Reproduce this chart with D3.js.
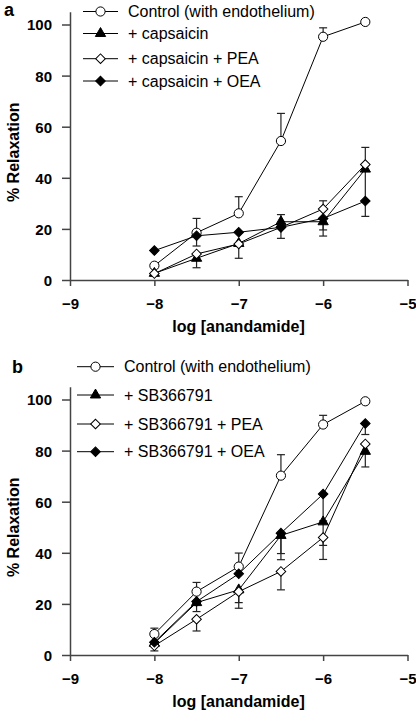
<!DOCTYPE html>
<html><head><meta charset="utf-8">
<script src="https://cdn.jsdelivr.net/npm/d3@7"></script>
<style>
html,body{margin:0;padding:0;background:#fff;}
svg{display:block;font-family:Arial,"Liberation Sans",Helvetica,sans-serif;}
</style></head>
<body>
<svg id="chart" width="416" height="710"></svg>
<script>
// ---- data ----
const xValues = [-8, -7.5, -7, -6.5, -6, -5.5];
const xTicks = [-9, -8, -7, -6, -5];
const yTicks = [0, 20, 40, 60, 80, 100];

const aLabels = ["Control (with endothelium)", "+ capsaicin", "+ capsaicin + PEA", "+ capsaicin + OEA"];
const aControl = [5.6, 18.5, 26.1, 54.4, 95.2, 101.0];
const aControlErr = [0, 5.6, 6.5, 10.8, 3.5, 0];
const aCaps = [2.6, 8.5, 14.3, 22.8, 22.8, 43.4];
const aCapsErr = [0, -3.7, -5.8, 2.8, -5.6, -18.5];
const aPEA = [2.5, 10.2, 14.1, 20.6, 27.8, 45.2];
const aPEAErr = [0, 0, 0, 0, 3.2, 6.7];
const aOEA = [11.5, 17.3, 18.7, 20.6, 24.1, 30.9];
const aOEAErr = [0, -4.0, 0, -4.3, -4.5, 0];

const bLabels = ["Control (with endothelium)", "+ SB366791", "+ SB366791 + PEA", "+ SB366791 + OEA"];
const bControl = [8.2, 24.8, 34.6, 70.2, 90.2, 99.3];
const bControlErr = [2.3, 3.6, 5.3, 8.2, 3.6, 0];
const bSB = [4.6, 20.5, 25.5, 46.8, 52.1, 79.7];
const bSBErr = [0, -3.5, -5.0, -9.5, -9.2, -6.1];
const bPEA = [3.6, 14.0, 24.8, 32.7, 46.0, 82.6];
const bPEAErr = [-2.0, -4.6, -6.5, -7.2, -8.6, 0];
const bOEA = [5.0, 20.9, 31.8, 47.7, 63.0, 90.6];
const bOEAErr = [0, 0, 0, -8.0, -10.5, -4.3];

const markers = ["circleOpen", "triangleFilled", "diamondOpen", "diamondFilled"];

// ---- drawing ----
const svg = d3.select("#chart");
const FONT = 'Arial,"Liberation Sans",Helvetica,sans-serif';

function markerPath(kind) {
  if (kind.startsWith("circle")) return d3.symbol(d3.symbolCircle, Math.PI * 4.6 * 4.6)();
  if (kind.startsWith("triangle")) return d3.symbol(d3.symbolTriangle, 46)();
  return d3.symbol(d3.symbolSquare, 46)();
}
function drawMarker(g, kind, cx, cy) {
  const filled = kind.endsWith("Filled");
  const rot = kind.startsWith("diamond") ? " rotate(45)" : "";
  g.append("path")
    .attr("d", markerPath(kind))
    .attr("transform", `translate(${cx},${cy})${rot}`)
    .attr("fill", filled ? "#000" : "#fff")
    .attr("stroke", "#000")
    .attr("stroke-width", 1);
}

function panel(opts) {
  const g = svg.append("g");
  const x = d3.scaleLinear().domain([-9, -5]).range([70, 407.5]);
  const y = d3.scaleLinear().domain([0, 105]).range([opts.y0, opts.y0 - 105 * 2.555]);

  // axes
  const xa = g.append("g").attr("transform", `translate(0,${opts.y0})`)
    .call(d3.axisBottom(x).tickValues(xTicks).tickFormat(d3.format("d")).tickSize(6).tickSizeOuter(0).tickPadding(12));
  const ya = g.append("g").attr("transform", `translate(70,0)`)
    .call(d3.axisLeft(y).tickValues(yTicks).tickSize(8).tickSizeOuter(0).tickPadding(10));
  [xa, ya].forEach(a => {
    a.selectAll("path.domain").attr("stroke", "#444").attr("stroke-width", 1.5);
    a.selectAll(".tick line").attr("stroke", "#444").attr("stroke-width", 1.5);
    a.selectAll(".tick text").attr("fill", "#000").style("font-family", FONT)
      .style("font-size", "15px").style("font-weight", "bold");
  });
  ya.selectAll(".tick text").attr("dy", "0.36em");

  // axis titles
  g.append("text").attr("x", 238.5).attr("y", opts.y0 + 52)
    .attr("text-anchor", "middle").style("font-family", FONT)
    .style("font-size", "16px").style("font-weight", "bold").text("log [anandamide]");
  g.append("text").attr("transform", `translate(19,${y(50)}) rotate(-90)`)
    .attr("text-anchor", "middle").style("font-family", FONT)
    .style("font-size", "16px").style("font-weight", "bold").text("% Relaxation");

  // panel letter
  g.append("text").attr("x", opts.letterX).attr("y", opts.letterY)
    .style("font-family", FONT).style("font-size", "18px").style("font-weight", "bold").text(opts.letter);

  const line = d3.line().x((d, i) => x(xValues[i])).y(d => y(d));
  // lines
  opts.series.forEach(s => {
    g.append("path").attr("d", line(s.values)).attr("fill", "none")
      .attr("stroke", "#000").attr("stroke-width", 1);
  });
  // error bars
  opts.series.forEach(s => {
    s.values.forEach((v, i) => {
      const e = s.err[i];
      if (!e) return;
      const cx = x(xValues[i]);
      g.append("line").attr("x1", cx).attr("x2", cx).attr("y1", y(v)).attr("y2", y(v + e))
        .attr("stroke", "#222").attr("stroke-width", 1.2);
      g.append("line").attr("x1", cx - 4).attr("x2", cx + 4).attr("y1", y(v + e)).attr("y2", y(v + e))
        .attr("stroke", "#222").attr("stroke-width", 1.2);
    });
  });
  // markers
  opts.series.forEach((s, k) => {
    s.values.forEach((v, i) => drawMarker(g, markers[k], x(xValues[i]), y(v)));
  });

  // legend
  opts.labels.forEach((lab, k) => {
    const ly = opts.legendRows[k];
    g.append("line").attr("x1", opts.legX0).attr("x2", opts.legX1).attr("y1", ly).attr("y2", ly)
      .attr("stroke", "#000").attr("stroke-width", 1);
    drawMarker(g, markers[k], (opts.legX0 + opts.legX1) / 2, ly);
    g.append("text").attr("x", opts.legText).attr("y", ly).attr("dy", "0.36em")
      .style("font-family", FONT).style("font-size", "16px").text(lab);
  });
}

panel({
  y0: 280, letter: "a", letterX: 4, letterY: 16,
  labels: aLabels,
  series: [
    {values: aControl, err: aControlErr},
    {values: aCaps, err: aCapsErr},
    {values: aPEA, err: aPEAErr},
    {values: aOEA, err: aOEAErr}
  ],
  legendRows: [11.5, 33.5, 58.7, 81], legX0: 83, legX1: 118, legText: 128
});
panel({
  y0: 655, letter: "b", letterX: 12, letterY: 373,
  labels: bLabels,
  series: [
    {values: bControl, err: bControlErr},
    {values: bSB, err: bSBErr},
    {values: bPEA, err: bPEAErr},
    {values: bOEA, err: bOEAErr}
  ],
  legendRows: [366.7, 395, 424, 451.7], legX0: 77, legX1: 114, legText: 124
});
</script>
</body></html>
